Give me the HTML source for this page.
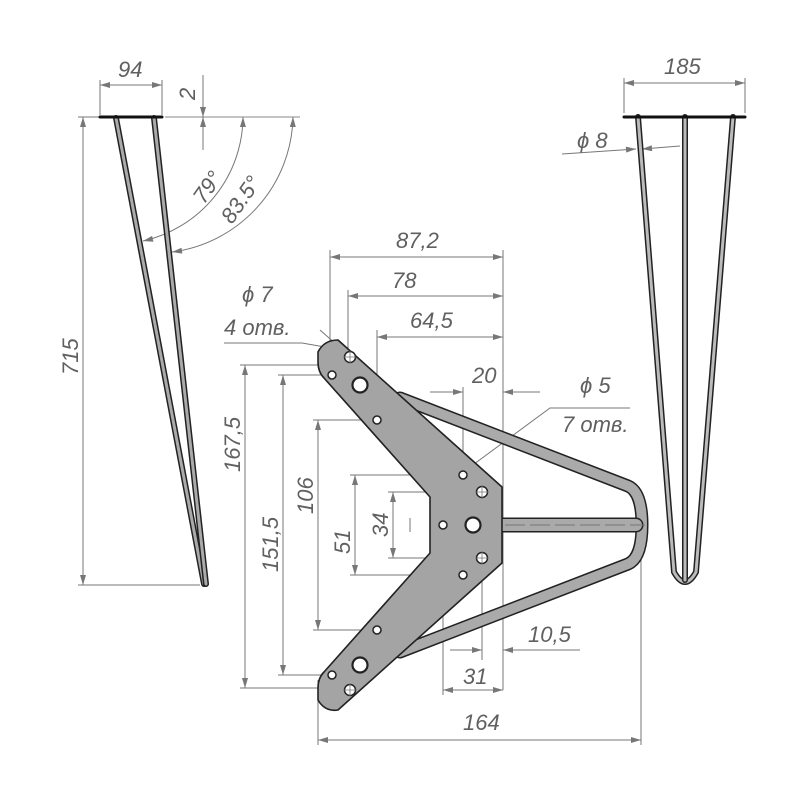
<!DOCTYPE html>
<html><head><meta charset="utf-8"><style>
html,body{margin:0;padding:0;background:#fff}
svg{display:block}
text{font-family:"Liberation Sans",sans-serif;font-style:italic;fill:#606060;font-size:22px}
</style></head><body>
<svg width="800" height="800" viewBox="0 0 800 800" xmlns="http://www.w3.org/2000/svg">
<defs>
<marker id="a" viewBox="0 0 10 6" refX="10" refY="3" markerWidth="14" markerHeight="6" markerUnits="userSpaceOnUse" orient="auto-start-reverse"><path d="M0,0L10,3L0,6z" fill="#777"/></marker>
</defs>
<g stroke="#777" stroke-width="1" fill="none">
<line x1="100" y1="80" x2="100" y2="115"/><line x1="162" y1="80" x2="162" y2="115"/>
<line x1="100" y1="85" x2="162" y2="85" marker-start="url(#a)" marker-end="url(#a)"/>
<line x1="78" y1="117" x2="100" y2="117"/><line x1="165" y1="117" x2="300" y2="117" stroke="#888"/>
<line x1="78" y1="585" x2="200" y2="585"/>
<line x1="83" y1="117" x2="83" y2="585" marker-start="url(#a)" marker-end="url(#a)"/>
<line x1="203" y1="75" x2="203" y2="117" marker-end="url(#a)"/>
<line x1="203" y1="150" x2="203" y2="117" marker-end="url(#a)"/>
<path d="M243,117 A128,128 0 0 1 143,241" marker-start="url(#a)" marker-end="url(#a)"/>
<path d="M293,117 A139,139 0 0 1 172,252" marker-start="url(#a)" marker-end="url(#a)"/>
<line x1="624" y1="78" x2="624" y2="113"/><line x1="745" y1="78" x2="745" y2="113"/>
<line x1="624" y1="83" x2="745" y2="83" marker-start="url(#a)" marker-end="url(#a)"/>
<line x1="562" y1="154" x2="636" y2="149" marker-end="url(#a)"/>
<line x1="680" y1="146" x2="642" y2="149" marker-end="url(#a)"/>
<line x1="330" y1="250" x2="330" y2="345"/><line x1="503" y1="250" x2="503" y2="690"/>
<line x1="330" y1="257" x2="503" y2="257" marker-start="url(#a)" marker-end="url(#a)"/>
<line x1="348" y1="290" x2="348" y2="352"/>
<line x1="348" y1="296" x2="503" y2="296" marker-start="url(#a)" marker-end="url(#a)"/>
<line x1="377" y1="330" x2="377" y2="420"/>
<line x1="377" y1="337" x2="503" y2="337" marker-start="url(#a)" marker-end="url(#a)"/>
<line x1="463" y1="387" x2="463" y2="580"/>
<line x1="430" y1="392" x2="463" y2="392" marker-end="url(#a)"/>
<line x1="540" y1="392" x2="503" y2="392" marker-end="url(#a)"/>
<path d="M443,487 L550,408 L630,408"/>
<line x1="455" y1="478" x2="443" y2="487" marker-end="url(#a)"/>
<path d="M224,343 L302,343 L342,350" />
<line x1="320" y1="330" x2="346" y2="353" marker-end="url(#a)"/>
<line x1="240" y1="365" x2="330" y2="365"/><line x1="240" y1="688" x2="330" y2="688"/>
<line x1="245" y1="365" x2="245" y2="688" marker-start="url(#a)" marker-end="url(#a)"/>
<line x1="278" y1="375" x2="332" y2="375"/><line x1="278" y1="675" x2="332" y2="675"/>
<line x1="283" y1="375" x2="283" y2="675" marker-start="url(#a)" marker-end="url(#a)"/>
<line x1="313" y1="420" x2="377" y2="420"/><line x1="313" y1="630" x2="377" y2="630"/>
<line x1="318" y1="420" x2="318" y2="630" marker-start="url(#a)" marker-end="url(#a)"/>
<line x1="350" y1="475" x2="463" y2="475"/><line x1="350" y1="575" x2="463" y2="575"/>
<line x1="355" y1="475" x2="355" y2="575" marker-start="url(#a)" marker-end="url(#a)"/>
<line x1="388" y1="492" x2="482" y2="492"/><line x1="388" y1="558" x2="482" y2="558"/>
<line x1="393" y1="492" x2="393" y2="558" marker-start="url(#a)" marker-end="url(#a)"/>
<line x1="318" y1="680" x2="318" y2="745"/><line x1="641" y1="530" x2="641" y2="745"/>
<line x1="318" y1="740" x2="641" y2="740" marker-start="url(#a)" marker-end="url(#a)"/>
<line x1="443" y1="525" x2="443" y2="695"/><line x1="482" y1="558" x2="482" y2="660"/>
<line x1="443" y1="690" x2="503" y2="690" marker-start="url(#a)" marker-end="url(#a)"/>
<line x1="450" y1="650" x2="482" y2="650" marker-end="url(#a)"/>
<line x1="580" y1="650" x2="503" y2="650" marker-end="url(#a)"/>
<line x1="410" y1="518" x2="410" y2="532"/>
</g>
<g fill="none" stroke-linecap="round">
<path d="M116,118 L204,584" stroke="#222" stroke-width="6"/><path d="M116,118 L204,584" stroke="#aaa" stroke-width="3"/>
<path d="M154,118 L206,584" stroke="#222" stroke-width="6"/><path d="M154,118 L206,584" stroke="#aaa" stroke-width="3"/>
<line x1="100" y1="117" x2="162" y2="117" stroke="#111" stroke-width="3"/>
<path d="M638,117 L674,572 Q685,592 696,572 L733,117" stroke="#222" stroke-width="6"/>
<path d="M638,117 L674,572 Q685,592 696,572 L733,117" stroke="#bbb" stroke-width="3"/>
<path d="M685,117 L685,580" stroke="#222" stroke-width="6"/><path d="M685,117 L685,580" stroke="#bbb" stroke-width="3"/>
<line x1="624" y1="117" x2="745" y2="117" stroke="#111" stroke-width="3"/>
<path d="M400,398 L628,486 Q642,492 642,525 Q642,558 628,564 L400,652" stroke="#222" stroke-width="13" stroke-linejoin="round"/>
<path d="M400,398 L628,486 Q642,492 642,525 Q642,558 628,564 L400,652" stroke="#aaa" stroke-width="10" stroke-linejoin="round"/>
<line x1="500" y1="525" x2="636" y2="525" stroke="#222" stroke-width="15"/>
<line x1="500" y1="525" x2="636" y2="525" stroke="#aaa" stroke-width="12"/>
</g>
<line x1="505" y1="525" x2="645" y2="525" stroke="#777" stroke-width="1" stroke-dasharray="20,5"/>
<path d="M338,340 L502,487 L502,563 L338,710 Q325,712 318,700 L318,688 Q318,678 324,672 L430,553 L430,497 L324,378 Q318,372 318,362 L318,352 Q324,340 338,340 Z" fill="#a4a4a4" stroke="#222" stroke-width="1.6" stroke-linejoin="round"/>
<g fill="#fff" stroke="#222" stroke-width="1.5">
<circle cx="360" cy="385" r="7.5" stroke-width="2.2"/><circle cx="473" cy="525" r="7.5" stroke-width="2.2"/><circle cx="360" cy="665" r="7.5" stroke-width="2.2"/>
<circle cx="350" cy="357" r="5.5"/><circle cx="482" cy="492" r="5.5"/><circle cx="482" cy="558" r="5.5"/><circle cx="350" cy="690" r="5.5"/>
<circle cx="332" cy="375" r="4"/><circle cx="377" cy="420" r="4"/><circle cx="463" cy="475" r="4"/><circle cx="443" cy="525" r="4"/><circle cx="463" cy="575" r="4"/><circle cx="377" cy="630" r="4"/><circle cx="332" cy="675" r="4"/>
</g>
<g stroke="#777" stroke-width="0.8">
<path d="M344,357h12M350,351v12M476,492h12M482,486v12M476,558h12M482,552v12M344,690h12M350,684v12"/>
</g>
<text x="118" y="77">94</text>
<text transform="translate(195,100) rotate(-90)">2</text>
<text transform="translate(204,205) rotate(-55)">79°</text>
<text transform="translate(232,225) rotate(-55)">83.5°</text>
<text transform="translate(78,375) rotate(-90)">715</text>
<text x="664" y="74">185</text>
<text x="577" y="148">ϕ 8</text>
<text x="396" y="248">87,2</text>
<text x="392" y="288">78</text>
<text x="410" y="328">64,5</text>
<text x="472" y="383">20</text>
<text x="580" y="393">ϕ 5</text>
<text x="562" y="432">7 отв.</text>
<text x="242" y="302">ϕ 7</text>
<text x="224" y="335">4 отв.</text>
<text transform="translate(240,472) rotate(-90)">167,5</text>
<text transform="translate(278,572) rotate(-90)">151,5</text>
<text transform="translate(313,514) rotate(-90)">106</text>
<text transform="translate(350,554) rotate(-90)">51</text>
<text transform="translate(388,537) rotate(-90)">34</text>
<text x="463" y="684">31</text>
<text x="528" y="642">10,5</text>
<text x="463" y="730">164</text>
</svg>
</body></html>
